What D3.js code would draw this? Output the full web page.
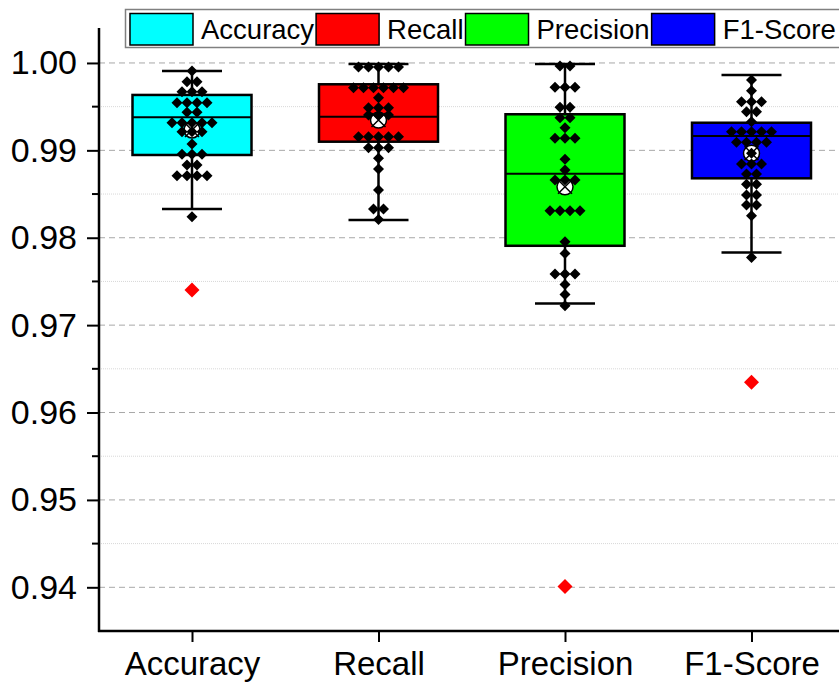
<!DOCTYPE html>
<html><head><meta charset="utf-8">
<script src="https://cdn.jsdelivr.net/npm/d3@7"></script>
<style>
html,body{margin:0;padding:0;background:#fff;}
svg{display:block;font-family:"Liberation Sans",Arial,sans-serif;}
</style></head>
<body>
<svg id="chart" width="839" height="684"></svg>
<script>
// ---- data ----
const categories = ["Accuracy", "Recall", "Precision", "F1-Score"];
const colors = ["#00FFFF", "#FF0000", "#00FF00", "#0000FF"];
const yTicks = [0.94, 0.95, 0.96, 0.97, 0.98, 0.99, 1.00];
const yMinorTicks = [0.945, 0.955, 0.965, 0.975, 0.985, 0.995];

const accuracyPoints = [0.99908, 0.99786, 0.99786, 0.99671, 0.99671, 0.99671,
  0.99545, 0.99545, 0.99545, 0.99545, 0.99435, 0.99435,
  0.99316, 0.99316, 0.99316, 0.99316, 0.99316, 0.99213, 0.99213, 0.99213,
  0.99073, 0.98955, 0.98955, 0.98955, 0.98832, 0.98832,
  0.98710, 0.98710, 0.98710, 0.98710, 0.98240];
const recallPoints = [0.99955, 0.99955, 0.99955, 0.99955, 0.99955,
  0.99717, 0.99717, 0.99717, 0.99717, 0.99717, 0.99717,
  0.99603, 0.99488, 0.99488, 0.99488, 0.99405, 0.99405, 0.99405,
  0.99156, 0.99156, 0.99156, 0.99156, 0.99156, 0.99030, 0.99030, 0.99030,
  0.98909, 0.98786, 0.98546, 0.98328, 0.98328, 0.98210];
const precisionPoints = [0.99966, 0.99966, 0.99722, 0.99722, 0.99722,
  0.99493, 0.99493, 0.99374, 0.99374, 0.99259, 0.99138, 0.99138, 0.99138,
  0.98897, 0.98775, 0.98660, 0.98660, 0.98660,
  0.98309, 0.98309, 0.98309, 0.98309, 0.97954, 0.97821,
  0.97584, 0.97584, 0.97584, 0.97466, 0.97351, 0.97221];
const f1Points = [0.99805, 0.99683, 0.99557, 0.99557, 0.99557, 0.99442, 0.99442,
  0.99328, 0.99213, 0.99213, 0.99213, 0.99213, 0.99213,
  0.99092, 0.99092, 0.99092, 0.99092, 0.98966,
  0.98843, 0.98843, 0.98843, 0.98729, 0.98729, 0.98611, 0.98611,
  0.98488, 0.98488, 0.98374, 0.98374, 0.98251, 0.97775];
const outliers = [[0.97401], [], [0.94010], [0.96347]];

const q1 = [0.98947, 0.99099, 0.97908, 0.98680];
const median = [0.99378, 0.99385, 0.98733, 0.99164];
const q3 = [0.99634, 0.99756, 0.99413, 0.99316];
const whiskerLow = [0.98328, 0.98202, 0.97248, 0.97832];
const whiskerHigh = [0.99908, 0.99989, 0.99989, 0.99863];
const means = [0.99233, 0.99347, 0.98583, 0.98966];

const allPoints = [accuracyPoints, recallPoints, precisionPoints, f1Points];

// ---- layout ----
const svg = d3.select("#chart");
const plotLeft = 99, plotRight = 839, plotTop = 28, plotBottom = 631;
const y = d3.scaleLinear().domain([0.935, 1.004]).range([plotBottom, plotTop]);
const x = d3.scalePoint().domain(categories).range([192, 751.5]);
const boxW = 119, capW = 60, dotStep = 10;

// grid
svg.append("g").selectAll("line.minor").data(yMinorTicks).join("line")
  .attr("x1", plotLeft).attr("x2", plotRight)
  .attr("y1", d => y(d)).attr("y2", d => y(d))
  .attr("stroke", "#d8d8d8").attr("stroke-width", 1).attr("stroke-dasharray", "1,1");
svg.append("g").selectAll("line.major").data(yTicks).join("line")
  .attr("x1", plotLeft).attr("x2", plotRight)
  .attr("y1", d => y(d)).attr("y2", d => y(d))
  .attr("stroke", "#a8a8a8").attr("stroke-width", 1).attr("stroke-dasharray", "6,4");

const diamond = (cx, cy, r) => `M${cx},${cy - r}L${cx + r},${cy}L${cx},${cy + r}L${cx - r},${cy}Z`;

categories.forEach((cat, i) => {
  const cx = x(cat);
  const g = svg.append("g");
  // whiskers
  g.append("line").attr("x1", cx).attr("x2", cx).attr("y1", y(q3[i])).attr("y2", y(whiskerHigh[i]))
    .attr("stroke", "#000").attr("stroke-width", 2.5);
  g.append("line").attr("x1", cx).attr("x2", cx).attr("y1", y(q1[i])).attr("y2", y(whiskerLow[i]))
    .attr("stroke", "#000").attr("stroke-width", 2.5);
  [whiskerHigh[i], whiskerLow[i]].forEach(v => {
    g.append("line").attr("x1", cx - capW / 2).attr("x2", cx + capW / 2).attr("y1", y(v)).attr("y2", y(v))
      .attr("stroke", "#000").attr("stroke-width", 2.5);
  });
  // box
  g.append("rect").attr("x", cx - boxW / 2).attr("width", boxW)
    .attr("y", y(q3[i])).attr("height", y(q1[i]) - y(q3[i]))
    .attr("fill", colors[i]).attr("stroke", "#000").attr("stroke-width", 2.5);
  g.append("line").attr("x1", cx - boxW / 2).attr("x2", cx + boxW / 2)
    .attr("y1", y(median[i])).attr("y2", y(median[i])).attr("stroke", "#000").attr("stroke-width", 2);
  // mean marker
  const my = y(means[i]);
  g.append("circle").attr("cx", cx).attr("cy", my).attr("r", 8)
    .attr("fill", "#fff").attr("stroke", "#000").attr("stroke-width", 1.5);
  g.append("path").attr("d", `M${cx - 7},${my - 7}L${cx + 7},${my + 7}M${cx + 7},${my - 7}L${cx - 7},${my + 7}`)
    .attr("stroke", "#000").attr("stroke-width", 1.5);
  // points: group equal values into rows, spread symmetrically
  const rows = d3.groups(allPoints[i], d => d);
  const pts = [];
  rows.forEach(([v, arr]) => {
    arr.forEach((d, k) => pts.push({ v: d, dx: (k - (arr.length - 1) / 2) * dotStep }));
  });
  g.selectAll("path.pt").data(pts).join("path")
    .attr("d", d => diamond(cx + d.dx, y(d.v), 5.5)).attr("fill", "#000");
  g.selectAll("path.out").data(outliers[i]).join("path")
    .attr("d", d => diamond(cx, y(d), 7.5)).attr("fill", "#FF0000");
});

// axes
const yAxis = d3.axisLeft(y).tickValues(yTicks).tickFormat(d3.format(".2f")).tickSize(12).tickPadding(10);
const yg = svg.append("g").attr("transform", `translate(${plotLeft},0)`).call(yAxis);
yg.select(".domain").remove();
yg.selectAll(".tick line").attr("stroke", "#000").attr("stroke-width", 2);
yg.selectAll("text").attr("font-size", 34).attr("fill", "#000")
  .attr("font-family", "'Liberation Sans',Arial,sans-serif");
svg.append("g").selectAll("line").data(yMinorTicks).join("line")
  .attr("x1", plotLeft - 7).attr("x2", plotLeft).attr("y1", d => y(d)).attr("y2", d => y(d))
  .attr("stroke", "#000").attr("stroke-width", 2);
svg.append("line").attr("x1", plotLeft).attr("x2", plotLeft).attr("y1", plotTop).attr("y2", plotBottom + 1)
  .attr("stroke", "#000").attr("stroke-width", 2.5);

const xAxis = d3.axisBottom(x).tickSize(11).tickPadding(10);
const xg = svg.append("g").attr("transform", `translate(0,${plotBottom})`).call(xAxis);
xg.select(".domain").remove();
xg.selectAll(".tick line").attr("stroke", "#000").attr("stroke-width", 2);
xg.selectAll("text").attr("font-size", 33).attr("fill", "#000")
  .attr("font-family", "'Liberation Sans',Arial,sans-serif");
svg.append("line").attr("x1", plotLeft - 1).attr("x2", plotRight).attr("y1", plotBottom).attr("y2", plotBottom)
  .attr("stroke", "#000").attr("stroke-width", 2.5);

// legend
const lg = svg.append("g");
lg.append("rect").attr("x", 125.5).attr("y", 9.5).attr("width", 720).attr("height", 38)
  .attr("fill", "#fff").attr("stroke", "#808080").attr("stroke-width", 1.5);
let lx = 130;
categories.forEach((cat, i) => {
  lg.append("rect").attr("x", lx).attr("y", 13.5).attr("width", 63).attr("height", 31.5)
    .attr("fill", colors[i]).attr("stroke", "#000").attr("stroke-width", 1.5);
  const t = lg.append("text").attr("x", lx + 63 + 8).attr("y", 38.5).attr("font-size", 27.5)
    .attr("fill", "#000").text(cat);
  lx = lx + 63 + 8 + t.node().getComputedTextLength() + 2;
});
</script>
</body></html>
